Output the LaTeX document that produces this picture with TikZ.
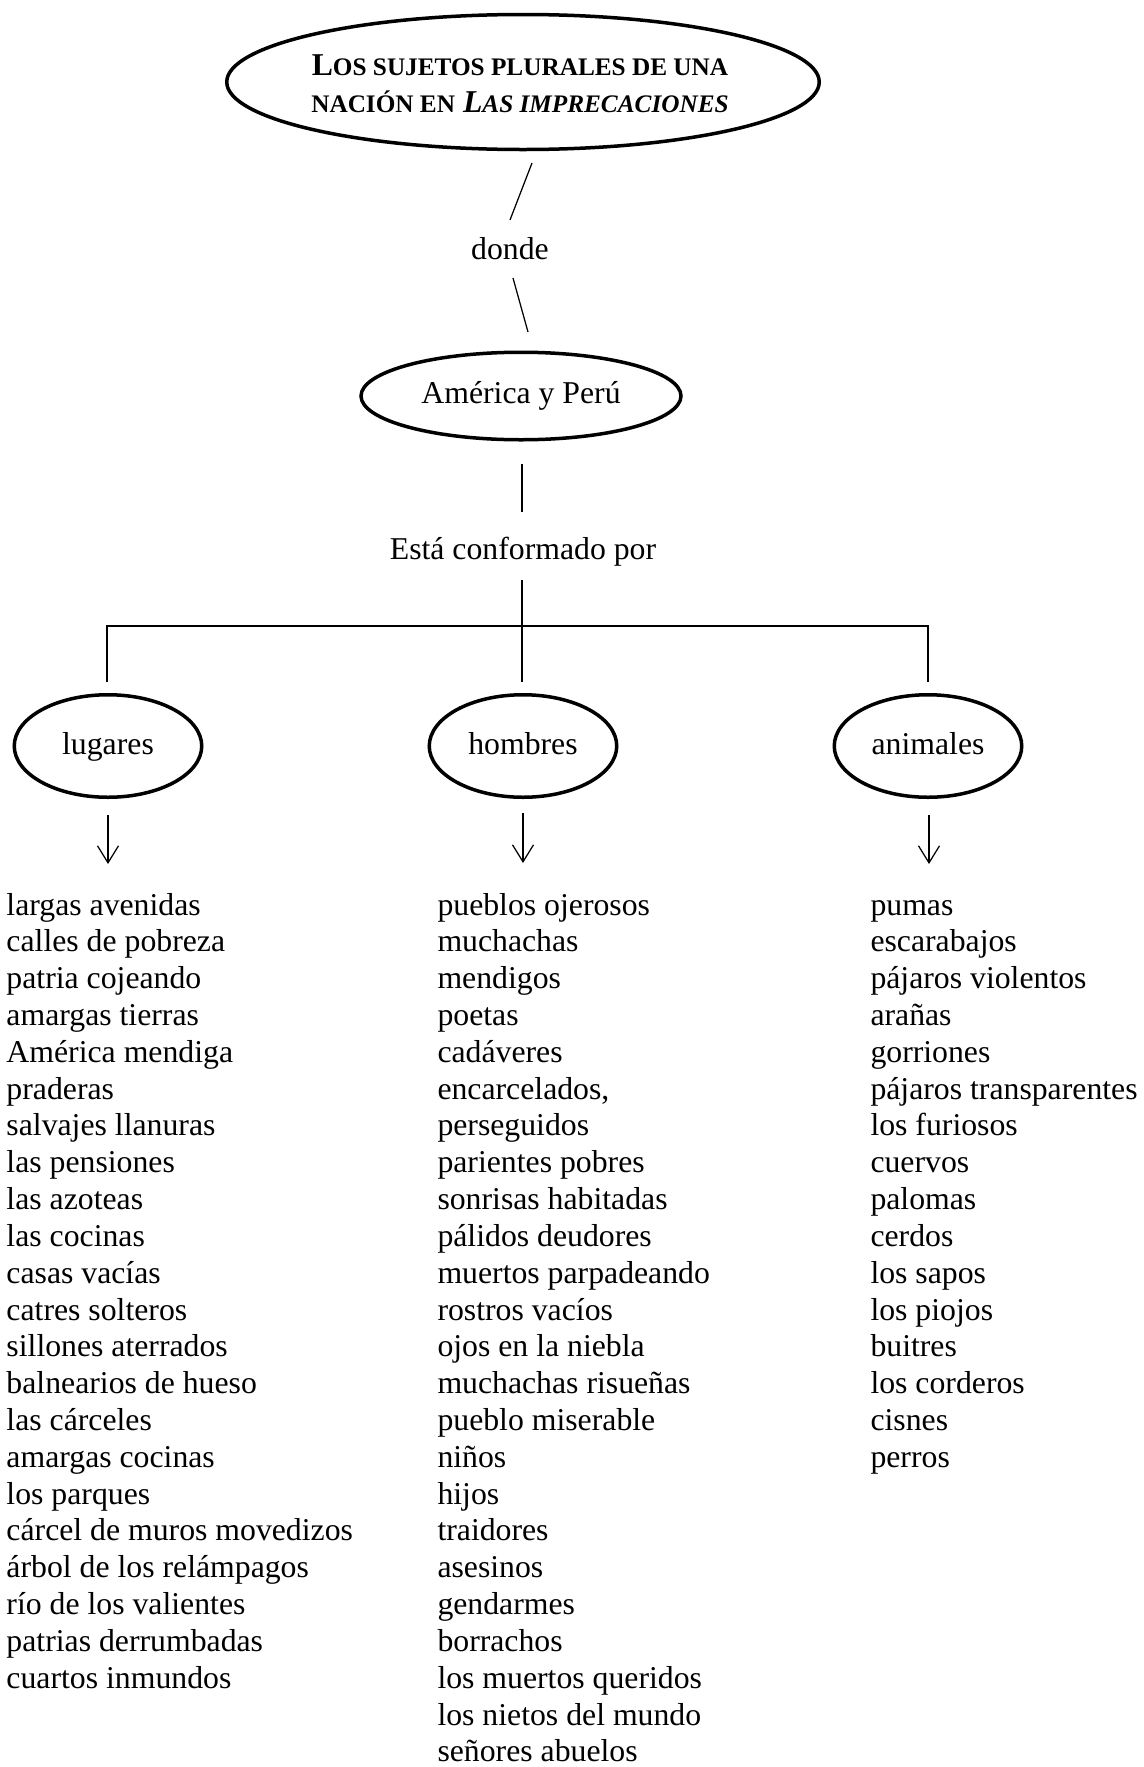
\documentclass[tikz,border=0pt]{standalone}
\usepackage{fontspec}
\setmainfont{Liberation Serif}
\usepackage{tikz}
\usetikzlibrary{shapes.geometric, arrows, arrows.meta, positioning}
\newcommand{\capchica}[1]{{\fontsize{10.1}{14.8}\selectfont #1}}
\tikzset{x=0.4pt, y=-0.4pt, % picture measured in pixels
    every node/.style={font=\fontsize{12.7}{14.7}\selectfont},
    burbuja/.style={ % Sets the properties for each oval
    ellipse,
    draw,
    line width=1.4pt,
    inner sep=0pt},
    grupo/.style={burbuja, minimum width=75pt, minimum height=41pt,
    text height=0.68em, text depth=0pt},
    enlace/.style={line width=0.5pt}, % plain connector
    flecha/.style={ % connector to the lists
    line width=0.5pt,
    -{Straight Barb[length=6.8pt,width=8.4pt,line width=0.5pt]}},
    item/.style={anchor=base west, inner sep=0pt}}

\begin{document}
\begin{tikzpicture}
    \useasboundingbox (0, 0) rectangle (1144, 1767);

    % Title
    \node[burbuja, minimum width=237pt, minimum height=54pt] (titulo) at (523, 82) {};
    \node[align=center, inner sep=0pt, anchor=base,
        font=\bfseries\fontsize{12.7}{14.8}\selectfont] (lema) at (520, 112)
        {L\capchica{OS SUJETOS PLURALES DE UNA}\\
         \capchica{NACIÓN EN} \textit{L\capchica{AS IMPRECACIONES}}};
    \node[anchor=base] (donde) at (510, 259) {donde};
    \node[burbuja, minimum width=128pt, minimum height=35pt] (pais) at (521, 396) {América y Perú};
    \node[anchor=base] (conforma) at (523, 559) {Está conformado por};

    % Three groups
    \node[grupo] (lugares) at (108, 746) {lugares};
    \node[grupo] (hombres) at (523, 746) {hombres};
    \node[grupo] (animales) at (928, 746) {animales};

    % Connector ends
    \coordinate (t1) at (532, 163);
    \coordinate (t2) at (510, 220);
    \coordinate (d1) at (513, 278);
    \coordinate (d2) at (528, 332);
    \coordinate (p1) at (522, 464);
    \coordinate (p2) at (522, 512);
    \coordinate (c1) at (522, 580);
    \coordinate (c2) at (522, 682);
    \coordinate (barw) at (107, 626);
    \coordinate (bare) at (928, 626);
    \coordinate (lw) at (107, 682);
    \coordinate (ae) at (928, 682);

    \draw[enlace] (t1) -- (t2);
    \draw[enlace] (d1) -- (d2);
    \draw[enlace] (p1) -- (p2);
    \draw[enlace] (c1) -- (c2);
    \draw[enlace] (lw) -- (barw) -- (bare) -- (ae);

    % Arrows to the lists
    \coordinate (la1) at (108, 815);
    \coordinate (la2) at (108, 864);
    \coordinate (ha1) at (523, 813);
    \coordinate (ha2) at (523, 863);
    \coordinate (aa1) at (929, 815);
    \coordinate (aa2) at (929, 864);
    \draw[flecha] (la1) -- (la2);
    \draw[flecha] (ha1) -- (ha2);
    \draw[flecha] (aa1) -- (aa2);

    % Lists
    \foreach \txt [count=\i] in {largas avenidas, calles de pobreza, patria cojeando,
        amargas tierras, América mendiga, praderas, salvajes llanuras, las pensiones,
        las azoteas, las cocinas, casas vacías, catres solteros, sillones aterrados,
        balnearios de hueso, las cárceles, amargas cocinas, los parques,
        cárcel de muros movedizos, árbol de los relámpagos, río de los valientes,
        patrias derrumbadas, cuartos inmundos}
        \node[item] (lug\i) at (6, {915+(\i-1)*36.82}) {\txt};

    \foreach \txt [count=\i] in {pueblos ojerosos, muchachas, mendigos, poetas,
        cadáveres, {encarcelados,}, perseguidos, parientes pobres, sonrisas habitadas,
        pálidos deudores, muertos parpadeando, rostros vacíos, ojos en la niebla,
        muchachas risueñas, pueblo miserable, niños, hijos, traidores, asesinos,
        gendarmes, borrachos, los muertos queridos, los nietos del mundo,
        señores abuelos}
        \node[item] (hom\i) at (437, {915+(\i-1)*36.82}) {\txt};

    \foreach \txt [count=\i] in {pumas, escarabajos, pájaros violentos, arañas,
        gorriones, pájaros transparentes, los furiosos, cuervos, palomas, cerdos,
        los sapos, los piojos, buitres, los corderos, cisnes, perros}
        \node[item] (ani\i) at (870, {915+(\i-1)*36.82}) {\txt};
\end{tikzpicture}
\end{document}
